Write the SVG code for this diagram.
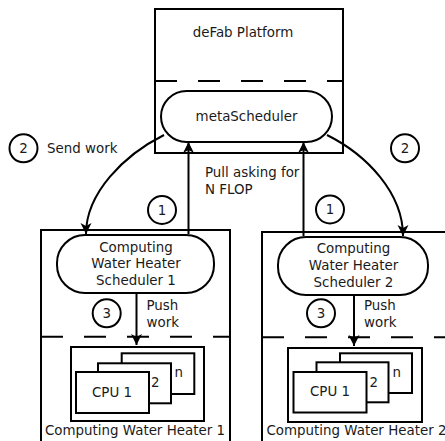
<svg xmlns="http://www.w3.org/2000/svg" width="445" height="441" viewBox="0 0 445 441">
<style>
.b{fill:#fff;stroke:#000;stroke-width:2}
.d{fill:none;stroke:#000;stroke-width:2;stroke-dasharray:22 21}
.c{fill:none;stroke:#000;stroke-width:2}
text{font-family:"DejaVu Sans","Liberation Sans",sans-serif;font-size:13.4px;fill:#1a1a1a}
.m{text-anchor:middle}
</style>
<defs>
<marker id="ah" markerUnits="userSpaceOnUse" markerWidth="14" markerHeight="14" viewBox="-12 -7 14 14" refX="0" refY="0" orient="auto">
<path d="M0,0 L-11,-5.5 L-8,0 L-11,5.5 Z" fill="#000"/>
</marker>
</defs>
<rect x="0" y="0" width="445" height="441" fill="#fff"/>
<g id="platform">
<rect class="b" x="155" y="9" width="188" height="144"/>
<line class="d" x1="155" y1="81" x2="343" y2="81"/>
<text class="m" x="243" y="37">deFab Platform</text>
</g>
<g id="metaScheduler">
<rect class="b" x="161" y="91" width="171" height="51" rx="25.5"/>
<text class="m" x="246.5" y="121">metaScheduler</text>
</g>
<g id="heater1">
<rect class="b" x="41" y="230" width="189" height="230"/>
<line class="d" x1="41" y1="336.7" x2="230" y2="336.7"/>
<text x="45" y="435">Computing Water Heater 1</text>
</g>
<g id="heater2">
<rect class="b" x="262" y="232" width="200" height="230"/>
<line class="d" x1="262" y1="337.3" x2="445" y2="337.3"/>
<text x="266.5" y="435">Computing Water Heater 2</text>
</g>
<g id="scheduler1">
<rect class="b" x="57" y="235" width="157" height="58" rx="28"/>
<text class="m" x="136" y="251.7">Computing</text>
<text class="m" x="136" y="268.3">Water Heater</text>
<text class="m" x="136" y="285">Scheduler 1</text>
</g>
<g id="scheduler2">
<rect class="b" x="278" y="237" width="150" height="58" rx="28"/>
<text class="m" x="353.5" y="253.3">Computing</text>
<text class="m" x="353.5" y="270">Water Heater</text>
<text class="m" x="353.5" y="286.7">Scheduler 2</text>
</g>
<g id="cpus1">
<rect class="b" x="71" y="347" width="133" height="74"/>
<rect class="b" x="121.7" y="353.3" width="72.6" height="40.7"/>
<text x="174.5" y="377">n</text>
<rect class="b" x="98" y="363.3" width="73" height="40"/>
<text x="151" y="387">2</text>
<rect class="b" x="76" y="372" width="73" height="41"/>
<text class="m" x="112" y="396.5">CPU 1</text>
</g>
<g id="cpus2">
<rect class="b" x="288" y="348" width="134" height="74"/>
<rect class="b" x="340" y="353.3" width="72" height="39.7"/>
<text x="392.5" y="377">n</text>
<rect class="b" x="316.5" y="362.3" width="72" height="40"/>
<text x="369.5" y="386.7">2</text>
<rect class="b" x="293.5" y="372" width="73" height="40.5"/>
<text class="m" x="330" y="395.5">CPU 1</text>
</g>
<g id="badges">
<circle class="c" cx="23.5" cy="148.3" r="14"/>
<text class="m" x="23.5" y="153">2</text>
<circle class="c" cx="405" cy="148.3" r="14"/>
<text class="m" x="405" y="153">2</text>
<circle class="c" cx="162" cy="210" r="14"/>
<text class="m" x="162" y="214.7">1</text>
<circle class="c" cx="330" cy="209.5" r="14"/>
<text class="m" x="330" y="214.2">1</text>
<circle class="c" cx="106.7" cy="313.3" r="14"/>
<text class="m" x="106.7" y="318">3</text>
<circle class="c" cx="321" cy="313.3" r="14"/>
<text class="m" x="321" y="318">3</text>
</g>
<g id="labels">
<text x="47" y="153">Send work</text>
<text x="205" y="177">Pull asking for</text>
<text x="205" y="194">N FLOP</text>
<text x="146.5" y="310">Push</text>
<text x="146.5" y="326.7">work</text>
<text x="364" y="310">Push</text>
<text x="364" y="326.7">work</text>
</g>
<g id="connectors">
<line class="c" x1="188.5" y1="234" x2="188.5" y2="142" marker-end="url(#ah)"/>
<line class="c" x1="303.5" y1="236" x2="303.5" y2="142" marker-end="url(#ah)"/>
<path class="c" d="M164,135 C124,155 86,193 86,234" marker-end="url(#ah)"/>
<path class="c" d="M327,135 C367,155 403,193 403,236" marker-end="url(#ah)"/>
<line class="c" x1="136.5" y1="293" x2="136.5" y2="345" marker-end="url(#ah)"/>
<line class="c" x1="354" y1="295" x2="354" y2="346" marker-end="url(#ah)"/>
</g>
</svg>
